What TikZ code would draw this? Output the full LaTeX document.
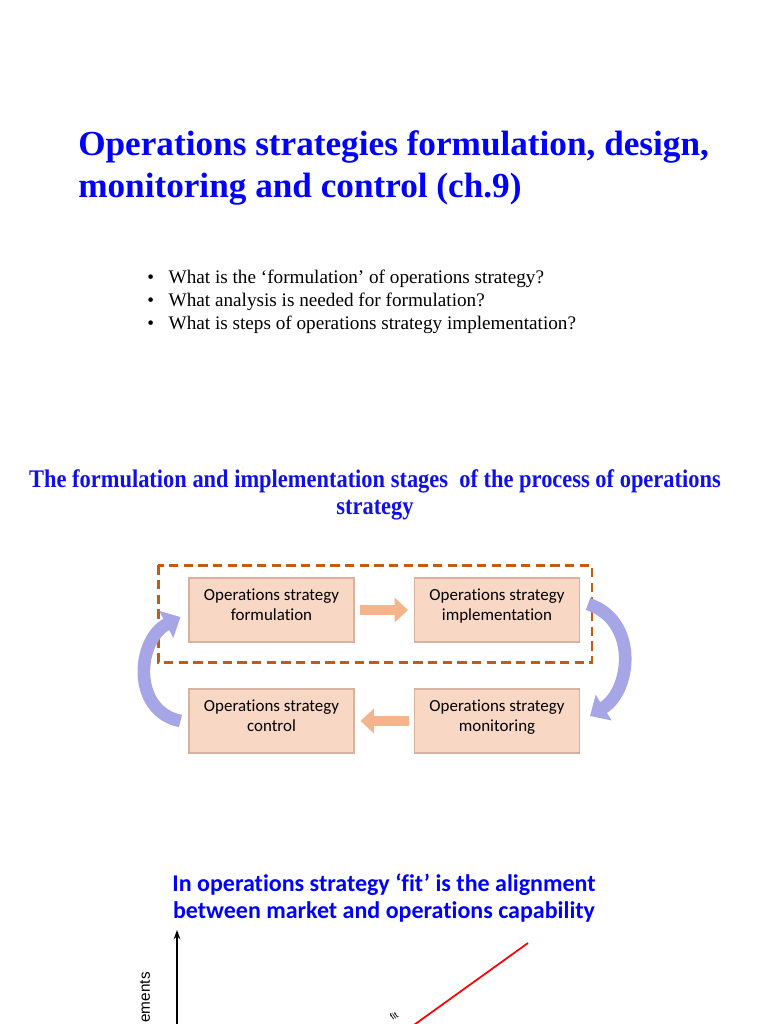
\documentclass[tikz,border=0pt]{standalone}
\usepackage{fontspec}
\setmainfont{Liberation Serif}
\newfontfamily\boxfont[Ligatures={NoCommon,NoContextual},RawFeature={-clig}]{Carlito}
\newfontfamily\fitfont[Ligatures={NoCommon,NoContextual},RawFeature={-clig}]{Carlito}
\newfontfamily\narrowfont[FakeStretch=0.886]{Liberation Serif}
\newfontfamily\axisfont{Liberation Sans}
\usetikzlibrary{arrows.meta,calc,positioning}
\definecolor{titelBlau}{HTML}{0000FF}
\definecolor{unterBlau}{HTML}{1010E8}
\definecolor{kastenFuell}{HTML}{F9D7C5}
\definecolor{kastenRand}{HTML}{D8B29E}
\definecolor{strichOrange}{HTML}{C55A11}
\definecolor{pfeilOrange}{HTML}{F5B48C}
\definecolor{schleifeLila}{HTML}{A6A6E6}
\begin{document}
\begin{tikzpicture}[x=0.75pt,y=-0.75pt,
  stagebox/.style={draw=kastenRand,fill=kastenFuell,line width=0.8pt,minimum width=123.75pt,minimum height=48pt,align=center,font=\boxfont\fontsize{12.7}{14.5}\selectfont,inner sep=0pt},
  blockpfeil/.style={draw=pfeilOrange,line width=7.5pt,-{Triangle[width=18pt,length=10pt]}},
  schleife/.style={draw=schleifeLila,line width=9.5pt,-{Triangle[width=22pt,length=12pt]}}]
\clip (0,0) rectangle (768,1024);
\fill[white] (0,0) rectangle (768,1024);
% Titel
\node[anchor=base west,text=titelBlau,font=\bfseries\fontsize{26.4}{31}\selectfont,inner sep=0pt] (titel1) at (78,155) {Operations strategies formulation, design,};
\node[anchor=base west,text=titelBlau,font=\bfseries\fontsize{26.4}{31}\selectfont,inner sep=0pt] (titel2) at (78,197) {monitoring and control (ch.9)};
% Fragen
\foreach \i/\frage in {0/{What is the ‘formulation’ of operations strategy?},1/{What analysis is needed for formulation?},2/{What is steps of operations strategy implementation?}}{
  \node[anchor=base west,font=\fontsize{14.4}{17}\selectfont,inner sep=0pt] (frage\i) at (147,283+23*\i) {\textbullet\hspace{11pt}\frage};
}
% Untertitel
\node[anchor=base,text=unterBlau,font=\narrowfont\bfseries\fontsize{19}{22}\selectfont,inner sep=0pt] (unter1) at (375,487) {The formulation and implementation stages\ \ of the process of operations};
\node[anchor=base,text=unterBlau,font=\narrowfont\bfseries\fontsize{19}{22}\selectfont,inner sep=0pt] (unter2) at (375,514) {strategy};
% Stufen
\node[stagebox] (form) at (271.5,610) {Operations strategy\\formulation\rule[-8pt]{0pt}{8pt}};
\node[stagebox] (impl) at (497,610) {Operations strategy\\implementation\rule[-8pt]{0pt}{8pt}};
\node[stagebox] (ctrl) at (271.5,721) {Operations strategy\\control\rule[-8pt]{0pt}{8pt}};
\node[stagebox] (mon) at (497,721) {Operations strategy\\monitoring\rule[-8pt]{0pt}{8pt}};
\draw[strichOrange,line width=1.9pt,dash pattern=on 7pt off 4pt] ($(form.north west)+(-30,-12)$) rectangle ($(impl.south east)+(12,20)$);
\draw[blockpfeil,shorten <=3.75pt,shorten >=4.5pt] (form.east) -- (impl.west);
\draw[blockpfeil,shorten <=3.75pt,shorten >=4.5pt] (mon.west) -- (ctrl.east);
\draw[schleife] ($(impl.east)+(8,-6)$) .. controls ($(impl.east)+(58,10)$) and ($(mon.east)+(52,-31)$) .. ($(mon.east)+(10,-5)$);
\draw[schleife] ($(ctrl.west)+(-8,0)$) .. controls ($(ctrl.west)+(-57,-10)$) and ($(form.west)+(-52,30)$) .. ($(form.west)+(-8,7)$);
% Fit
\node[anchor=base,text=titelBlau,font=\fitfont\bfseries\fontsize{18}{21}\selectfont,inner sep=0pt] (fit1) at (384,891) {In operations strategy ‘fit’ is the alignment};
\node[anchor=base,text=titelBlau,font=\fitfont\bfseries\fontsize{18}{21}\selectfont,inner sep=0pt] (fit2) at (384,918) {between market and operations capability};
\coordinate (achseFuss) at (177,1040);
\coordinate (achseKopf) at (177,930);
\draw[line width=1.5pt,-{Stealth[length=7pt,width=5pt]}] (achseFuss) -- (achseKopf);
\node[anchor=east,rotate=90,font=\axisfont\fontsize{11.5}{13}\selectfont,inner sep=0pt] (achseText) at (145,972) {ements};
\coordinate (linieA) at (393,1040);
\coordinate (linieB) at (528,943);
\draw[red,line width=1.3pt] (linieA) -- (linieB);
\node[rotate=35,font=\axisfont\fontsize{7}{8}\selectfont,inner sep=0pt] (fitText) at (394,1016) {fit};
\end{tikzpicture}
\end{document}
